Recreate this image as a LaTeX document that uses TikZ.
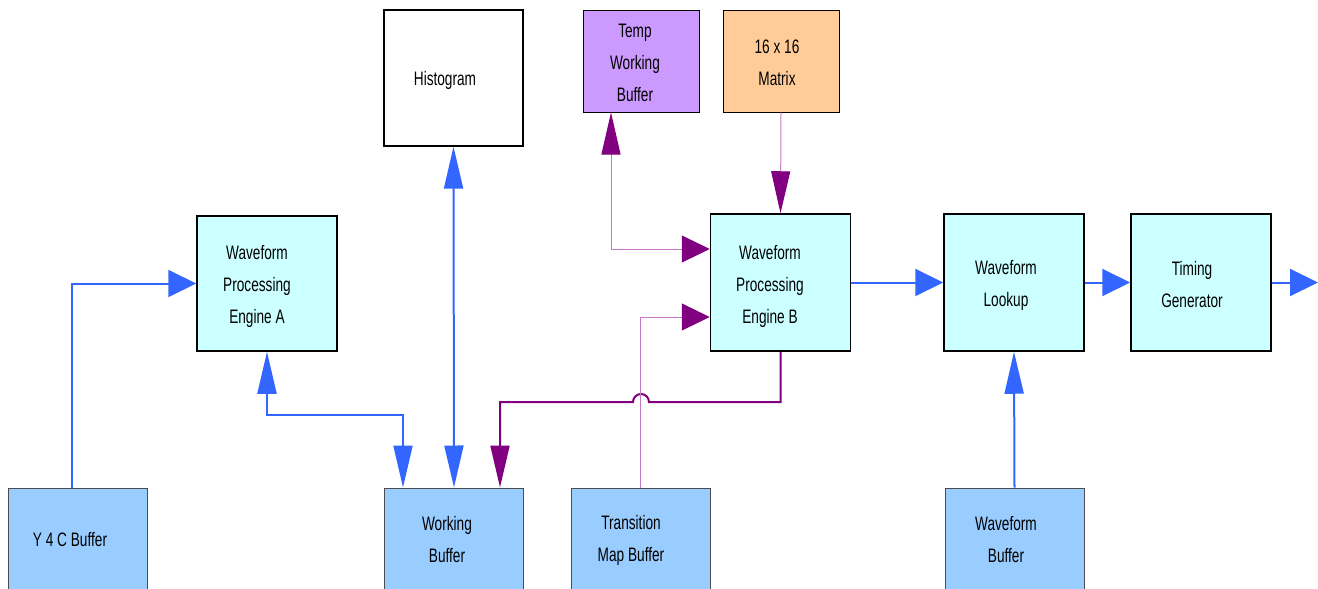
\documentclass[tikz,border=0pt]{standalone}
\usepackage{fontspec}
\setmainfont{Liberation Sans}[FakeStretch=0.7]
\usetikzlibrary{arrows.meta}
\definecolor{flowC}{RGB}{51,102,255}
\definecolor{ctrlC}{RGB}{128,0,128}
\definecolor{auxC}{RGB}{200,120,200}
\definecolor{engC}{RGB}{204,255,255}
\definecolor{bufC}{RGB}{153,204,255}
\definecolor{tmpC}{RGB}{204,153,255}
\definecolor{matC}{RGB}{255,204,153}

\begin{document}
\begin{tikzpicture}[
  engine/.style={draw=black, line width=1.5pt, fill=engC, minimum width=140pt, minimum height=137pt, inner sep=0pt},
  buffer/.style={draw=black!70, line width=1pt, fill=bufC, minimum width=139pt, minimum height=140pt, inner sep=0pt},
  store/.style={draw=black, line width=1.2pt, minimum width=116pt, minimum height=102pt, inner sep=0pt},
  lbl/.style={font=\fontsize{19.5}{32}\selectfont, align=center, inner sep=0pt},
  flow/.style={draw=flowC, line width=2pt},
  ctrl/.style={draw=ctrlC, line width=2pt},
  aux/.style={draw=auxC, line width=1pt},
  vhead/.tip={Triangle[length=42pt, width=19pt]},
  hhead/.tip={Triangle[length=28pt, width=27pt]},
  pvhead/.tip={Triangle[length=42pt, width=19pt, color=ctrlC]},
  phhead/.tip={Triangle[length=28pt, width=27pt, color=ctrlC]},
  x=1pt, y=-1pt  % pixel grid of the sheet, y runs downwards
]
\useasboundingbox (0,0) rectangle (1318,589);
\clip (0,0) rectangle (1318,589);

% ---------- memories along the bottom ----------
\node[buffer] (y4c) at (77.5,558) {};
\node[buffer] (work) at (454,558) {};
\node[buffer] (trans) at (640.5,558) {};
\node[buffer] (wbuf) at (1014.5,558) {};
\node[lbl] (y4cT) at (70,540) {Y 4 C Buffer};
\node[lbl] (workT) at (447,540) {Working\\Buffer};
\node[lbl] (transT) at (631,540) {Transition\\Map Buffer};
\node[lbl] (wbufT) at (1006,540) {Waveform\\Buffer};

% ---------- tables along the top ----------
\node[store, minimum width=139pt, minimum height=136pt, fill=white] (hist) at (453.5,78) {};
\node[store, fill=tmpC, line width=1pt] (temp) at (641,61) {};
\node[store, fill=matC, line width=1pt] (matrix) at (781,61) {};
\node[lbl] (histT) at (445,80) {Histogram};
\node[lbl] (tempT) at (635,63) {Temp\\Working\\Buffer};
\node[lbl] (matrixT) at (777,63) {16 x 16\\Matrix};

% ---------- processing chain ----------
\node[engine, minimum height=135pt] (wpeA) at (267,283.5) {};
\node[engine] (wpeB) at (780.5,282.5) {};
\node[engine] (lookup) at (1014,282.5) {};
\node[engine] (timing) at (1201,282.5) {};
\node[lbl] (wpeAT) at (257,286) {Waveform\\Processing\\Engine A};
\node[lbl] (wpeBT) at (770,286) {Waveform\\Processing\\Engine B};
\node[lbl] (lookupT) at (1006,285) {Waveform\\Lookup};
\node[lbl] (timingT) at (1192,285) {Timing\\Generator};

\coordinate (hop) at (641,402);
\coordinate (out) at (1318,282.5);

% ---------- blue data paths ----------
\draw[flow, -{hhead}] ([xshift=-5.5pt]y4c.north) |- (wpeA.west);
\draw[flow, {vhead}-{vhead}] (wpeA.south) -- ++(0,63) -| ([xshift=-51pt]work.north);
\draw[flow, {vhead}-{vhead}] (hist.south) -- (work.north);
\draw[flow, -{hhead}] (wpeB.east) -- (lookup.west);
\draw[flow, -{hhead}] (lookup.east) -- (timing.west);
\draw[flow, -{hhead}] (timing.east) -- (out);
\draw[flow, -{vhead}] (wbuf.north) -- (lookup.south);

% ---------- purple paths around engine B ----------
\draw[ctrl, -{pvhead}] (wpeB.south) |- ([xshift=8pt]hop)
  arc[start angle=0, end angle=180, radius=8pt] -| ([xshift=46pt]work.north);
\draw[aux, -{phhead}] (trans.north) |- ([yshift=-34.5pt]wpeB.west);
\draw[aux, {pvhead}-{phhead}] ([xshift=-30pt]temp.south) |- ([yshift=33.5pt]wpeB.west);
\draw[aux, -{pvhead}] (matrix.south) -- (wpeB.north);

\end{tikzpicture}
\end{document}
